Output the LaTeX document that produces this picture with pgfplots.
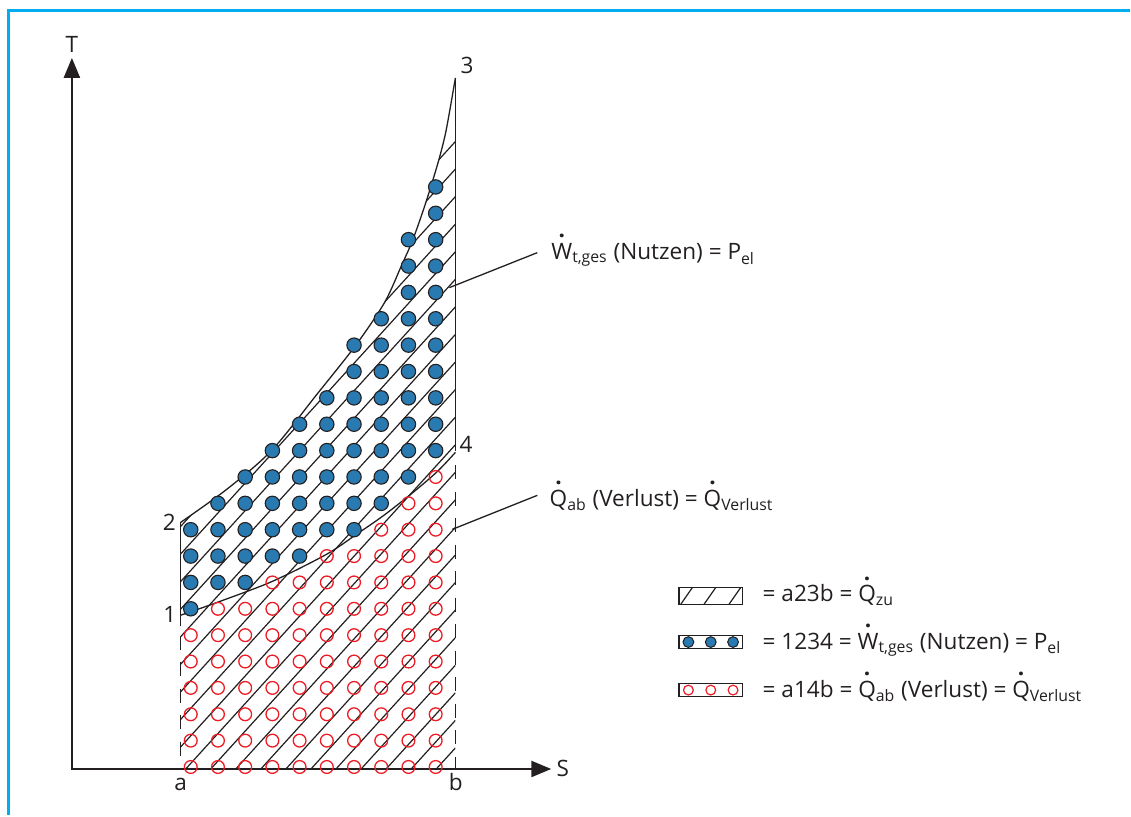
\documentclass[border=0pt]{standalone}
\usepackage{fontspec}
\setmainfont{Open Sans}
\usepackage{pgfplots}
\pgfplotsset{compat=1.18}
\usetikzlibrary{arrows.meta}
\definecolor{framecol}{RGB}{0,174,239}
\definecolor{dotblue}{RGB}{40,122,176}
\definecolor{circred}{RGB}{237,28,36}
\definecolor{ink}{RGB}{35,31,32}
\newcommand{\dt}[1]{\ooalign{#1\cr\hidewidth\raisebox{0.97em}{\textbf{.}}\hidewidth\cr}}
\begin{document}
\begin{tikzpicture}[font=\fontsize{11.3}{13}\selectfont]
\begin{axis}[scale only axis, width=565.5pt, height=408pt,
  xmin=0, xmax=1131, ymin=0, ymax=816, y dir=reverse,
  hide axis, clip=false]
\path (axis cs:0,0) rectangle (axis cs:1131,816);
% frame
\addplot[framecol, line width=1.5pt] coordinates {(8.7,816) (8.7,10.5) (1131,10.5)};
% hatching clipped to a-2-3-b
\begin{scope}
\clip (181,770) -- plot[smooth] coordinates {(181,523) (227,490) (272,451) (318,394) (356,346) (385,303) (402,266) (413,241) (424,210) (432,185) (440,158) (446,134) (451,107) (456,78)} -- (456,770) -- cycle;
\addplot[ink, line width=0.6pt] coordinates {(456,141.7) (150,478.3)};
\addplot[ink, line width=0.6pt] coordinates {(456,169.3) (150,505.9)};
\addplot[ink, line width=0.6pt] coordinates {(456,196.9) (150,533.5)};
\addplot[ink, line width=0.6pt] coordinates {(456,224.5) (150,561.1)};
\addplot[ink, line width=0.6pt] coordinates {(456,252.1) (150,588.7)};
\addplot[ink, line width=0.6pt] coordinates {(456,279.7) (150,616.3)};
\addplot[ink, line width=0.6pt] coordinates {(456,307.3) (150,643.9)};
\addplot[ink, line width=0.6pt] coordinates {(456,334.9) (150,671.5)};
\addplot[ink, line width=0.6pt] coordinates {(456,362.5) (150,699.1)};
\addplot[ink, line width=0.6pt] coordinates {(456,390.1) (150,726.7)};
\addplot[ink, line width=0.6pt] coordinates {(456,417.7) (150,754.3)};
\addplot[ink, line width=0.6pt] coordinates {(456,445.3) (150,781.9)};
\addplot[ink, line width=0.6pt] coordinates {(456,472.9) (150,809.5)};
\addplot[ink, line width=0.6pt] coordinates {(456,500.5) (150,837.1)};
\addplot[ink, line width=0.6pt] coordinates {(456,528.1) (150,864.7)};
\addplot[ink, line width=0.6pt] coordinates {(456,555.7) (150,892.3)};
\addplot[ink, line width=0.6pt] coordinates {(456,583.3) (150,919.9)};
\addplot[ink, line width=0.6pt] coordinates {(456,610.9) (150,947.5)};
\addplot[ink, line width=0.6pt] coordinates {(456,638.5) (150,975.1)};
\addplot[ink, line width=0.6pt] coordinates {(456,666.1) (150,1002.7)};
\addplot[ink, line width=0.6pt] coordinates {(456,693.7) (150,1030.3)};
\addplot[ink, line width=0.6pt] coordinates {(456,721.3) (150,1057.9)};
\addplot[ink, line width=0.6pt] coordinates {(456,748.9) (150,1085.5)};
\end{scope}
% red circles a-1-4-b
\begin{scope}
\clip (150,0) rectangle (500,770);
\addplot[only marks, mark=o, mark size=3.2pt, mark options={draw=circred, line width=0.65pt}] coordinates {
(191,768) (191,741.6) (191,715.2) (191,688.8) (191,662.4) (191,636)
(218.25,768) (218.25,741.6) (218.25,715.2) (218.25,688.8) (218.25,662.4) (218.25,636) (218.25,609.6)
(245.5,768) (245.5,741.6) (245.5,715.2) (245.5,688.8) (245.5,662.4) (245.5,636) (245.5,609.6)
(272.75,768) (272.75,741.6) (272.75,715.2) (272.75,688.8) (272.75,662.4) (272.75,636) (272.75,609.6) (272.75,583.2)
(300,768) (300,741.6) (300,715.2) (300,688.8) (300,662.4) (300,636) (300,609.6) (300,583.2)
(327.25,768) (327.25,741.6) (327.25,715.2) (327.25,688.8) (327.25,662.4) (327.25,636) (327.25,609.6) (327.25,583.2) (327.25,556.8)
(354.5,768) (354.5,741.6) (354.5,715.2) (354.5,688.8) (354.5,662.4) (354.5,636) (354.5,609.6) (354.5,583.2) (354.5,556.8)
(381.75,768) (381.75,741.6) (381.75,715.2) (381.75,688.8) (381.75,662.4) (381.75,636) (381.75,609.6) (381.75,583.2) (381.75,556.8) (381.75,530.4)
(409,768) (409,741.6) (409,715.2) (409,688.8) (409,662.4) (409,636) (409,609.6) (409,583.2) (409,556.8) (409,530.4) (409,504)
(436.25,768) (436.25,741.6) (436.25,715.2) (436.25,688.8) (436.25,662.4) (436.25,636) (436.25,609.6) (436.25,583.2) (436.25,556.8) (436.25,530.4) (436.25,504) (436.25,477.6)
};
\end{scope}
% blue dots 1-2-3-4
\begin{scope}
\clip (181,770) -- plot[smooth] coordinates {(181,523) (227,490) (272,451) (318,394) (356,346) (385,303) (402,266) (413,241) (424,210) (432,185) (440,158) (446,134) (451,107) (456,78)} -- (456,770) -- cycle;
\addplot[only marks, mark=*, mark size=3.6pt, mark options={fill=dotblue, draw=ink, line width=0.55pt}] coordinates {
(191,609.6) (191,583.2) (191,556.8) (191,530.4)
(218.25,583.2) (218.25,556.8) (218.25,530.4) (218.25,504)
(245.5,583.2) (245.5,556.8) (245.5,530.4) (245.5,504) (245.5,477.6)
(272.75,556.8) (272.75,530.4) (272.75,504) (272.75,477.6) (272.75,451.2)
(300,556.8) (300,530.4) (300,504) (300,477.6) (300,451.2) (300,424.8)
(327.25,530.4) (327.25,504) (327.25,477.6) (327.25,451.2) (327.25,424.8) (327.25,398.4)
(354.5,530.4) (354.5,504) (354.5,477.6) (354.5,451.2) (354.5,424.8) (354.5,398.4) (354.5,372) (354.5,345.6)
(381.75,504) (381.75,477.6) (381.75,451.2) (381.75,424.8) (381.75,398.4) (381.75,372) (381.75,345.6) (381.75,319.2)
(409,477.6) (409,451.2) (409,424.8) (409,398.4) (409,372) (409,345.6) (409,319.2) (409,292.8) (409,266.4) (409,240)
(436.25,451.2) (436.25,424.8) (436.25,398.4) (436.25,372) (436.25,345.6) (436.25,319.2) (436.25,292.8) (436.25,266.4) (436.25,240) (436.25,213.6) (436.25,187.2)
};
\end{scope}
% boundaries
\addplot[ink, line width=0.65pt, smooth] coordinates {(181,523) (227,490) (272,451) (318,394) (356,346) (385,303) (402,266) (413,241) (424,210) (432,185) (440,158) (446,134) (451,107) (456,78)};
\addplot[ink, line width=0.65pt, smooth] coordinates {(181,616) (218,603) (273,582) (327,555) (357,535) (383,517) (410,496) (437,473) (456,453)};
\addplot[ink, line width=0.65pt] coordinates {(181,523) (181,627)};
\addplot[ink, line width=0.65pt] coordinates {(456,78) (456,452)};
\addplot[ink, line width=0.65pt, dash pattern=on 7pt off 6.25pt] coordinates {(181,636.5) (181,770)};
\addplot[ink, line width=0.65pt, dash pattern=on 7pt off 6.25pt] coordinates {(456,466) (456,770)};
% axes
\addplot[ink, line width=1.2pt, line join=miter, {Triangle[length=10pt,width=8pt]}-{Triangle[length=10pt,width=8pt]}] coordinates {(72,58) (72,770) (552,770)};
% leader lines
\addplot[ink, line width=0.65pt] coordinates {(450,288) (538,253)};
\addplot[ink, line width=0.65pt] coordinates {(453,530) (538,496)};
% legend
\addplot[ink, line width=0.65pt] coordinates {(680,588.3) (743.3,588.3) (743.3,605) (680,605) (680,588.3) (743.3,588.3)};
\addplot[ink, line width=0.6pt] coordinates {(681.7,605) (693.3,588.3)};
\addplot[ink, line width=0.6pt] coordinates {(705,605) (716.7,588.3)};
\addplot[ink, line width=0.6pt] coordinates {(730,605) (741.7,588.3)};
\addplot[ink, line width=0.65pt] coordinates {(680,636.2) (743.3,636.2) (743.3,649.5) (680,649.5) (680,636.2) (743.3,636.2)};
\addplot[only marks, mark=*, mark size=2.7pt, mark options={fill=dotblue, draw=ink, line width=0.5pt}] coordinates {(689.3,642.9) (711.7,642.9) (734,642.9)};
\addplot[ink, line width=0.65pt] coordinates {(680,684.5) (743.3,684.5) (743.3,697.5) (680,697.5) (680,684.5) (743.3,684.5)};
\addplot[only marks, mark=o, mark size=2.45pt, mark options={draw=circred, line width=0.6pt}] coordinates {(689.3,691) (711.7,691) (734,691)};
% labels
\node[anchor=base, inner sep=0pt, text=ink] at (axis cs:72,53) {T};
\node[anchor=base west, inner sep=0pt, text=ink] at (axis cs:557,777.5) {S};
\node[anchor=base, inner sep=0pt, text=ink] at (axis cs:181,791.7) {a};
\node[anchor=base, inner sep=0pt, text=ink] at (axis cs:456.5,792) {b};
\node[anchor=base, inner sep=0pt, text=ink] at (axis cs:170,623) {1};
\node[anchor=base, inner sep=0pt, text=ink] at (axis cs:169.5,530.7) {2};
\node[anchor=base, inner sep=0pt, text=ink] at (axis cs:467.7,74) {3};
\node[anchor=base, inner sep=0pt, text=ink] at (axis cs:466.7,453.3) {4};
\node[anchor=base west, inner sep=0pt, text=ink] at (axis cs:551.7,260) {\dt{W}\textsubscript{t,ges} (Nutzen) = P\textsubscript{el}};
\node[anchor=base west, inner sep=0pt, text=ink] at (axis cs:550,507) {\dt{Q}\textsubscript{ab} (Verlust) = \dt{Q}\textsubscript{Verlust}};
\node[anchor=base west, inner sep=0pt, text=ink] at (axis cs:763.3,602.7) {= a23b = \dt{Q}\textsubscript{zu}};
\node[anchor=base west, inner sep=0pt, text=ink] at (axis cs:763.3,650) {= 1234 = \dt{W}\textsubscript{t,ges} (Nutzen) = P\textsubscript{el}};
\node[anchor=base west, inner sep=0pt, text=ink] at (axis cs:763.3,698.3) {= a14b = \dt{Q}\textsubscript{ab} (Verlust) = \dt{Q}\textsubscript{Verlust}};
\end{axis}
\end{tikzpicture}
\end{document}
